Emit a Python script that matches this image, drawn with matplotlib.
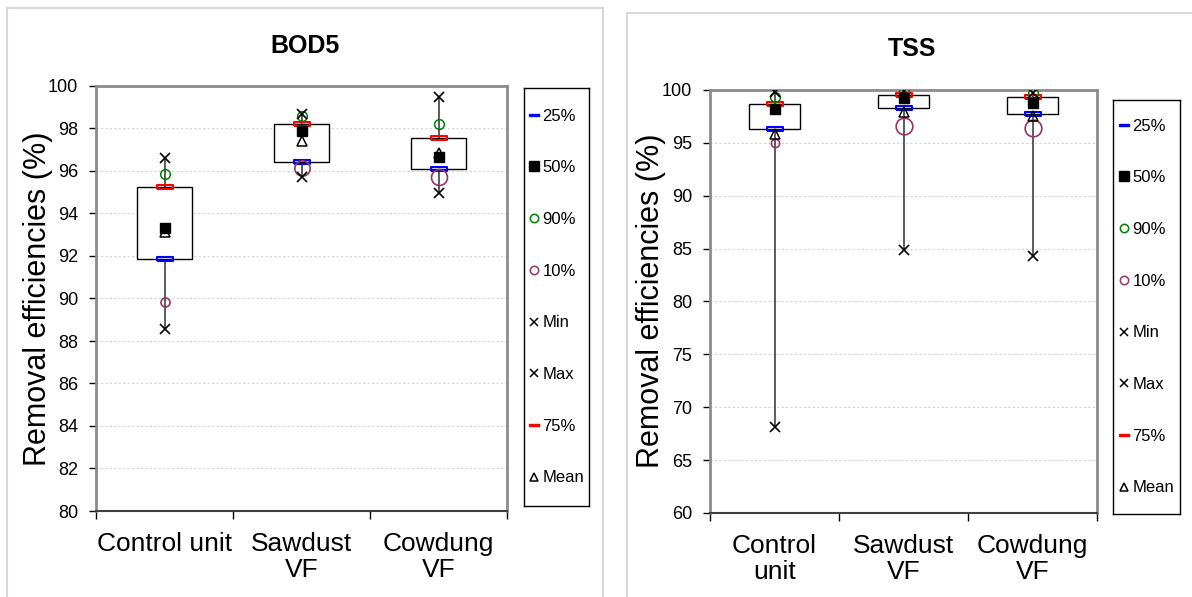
import matplotlib
matplotlib.use("Agg")
from matplotlib import pyplot as plt
from matplotlib.lines import Line2D
from matplotlib.patches import Rectangle

plt.rcParams['font.family'] = ['Liberation Sans', 'DejaVu Sans']

# BOD5 removal efficiencies (%)
bod_labels = ["Control unit", "Sawdust\nVF", "Cowdung\nVF"]
bod_p25 = [91.84, 96.44, 96.08]
bod_p50 = [93.30, 97.88, 96.66]
bod_p75 = [95.26, 98.20, 97.57]
bod_p10 = [89.85, 96.16, 95.73]
bod_p90 = [95.84, 98.60, 98.21]
bod_min = [88.55, 95.70, 94.98]
bod_max = [96.63, 98.66, 99.50]
bod_mean = [93.15, 97.41, 96.86]

# TSS removal efficiencies (%)
tss_labels = ["Control\nunit", "Sawdust\nVF", "Cowdung\nVF"]
tss_p25 = [96.31, 98.33, 97.70]
tss_p50 = [98.17, 99.20, 98.80]
tss_p75 = [98.65, 99.50, 99.31]
tss_p10 = [95.00, 96.60, 96.43]
tss_p90 = [99.37, 99.88, 99.70]
tss_min = [68.15, 84.86, 84.30]
tss_max = [99.84, 99.95, 99.72]
tss_mean = [95.84, 97.90, 97.57]

# the 10% circles are drawn in two sizes in the original
bod_p10_size = [6.5, 11, 11.5]
tss_p10_size = [6, 12, 12]

DASH = [(-1, -0.22), (1, -0.22), (1, 0.22), (-1, 0.22), (-1, -0.22)]
PURPLE = "#993366"
GREEN = "#008000"
FRAME = "#8c8c8c"


def box_panel(ax, labels, p25, p50, p75, p10, p90, vmin, vmax, mean, p10_size):
    x = list(range(1, len(labels) + 1))
    ax.vlines(x, vmin, vmax, color="#303030", lw=1.1, zorder=1)
    ax.bar(x, [b - a for a, b in zip(p25, p75)], bottom=p25, width=0.4,
           color="white", edgecolor="black", lw=1.0, zorder=2)
    ax.plot(x, p25, ls="none", marker=DASH, ms=12, mfc="none", mec="#0000ff", mew=1.5, zorder=4)
    ax.plot(x, p75, ls="none", marker=DASH, ms=12, mfc="none", mec="#ff0000", mew=1.5, zorder=4)
    ax.plot(x, p50, ls="none", marker="s", ms=7.5, color="black", zorder=5)
    ax.plot(x, p90, ls="none", marker="o", ms=7, mfc="none", mec=GREEN, mew=1.1, zorder=4)
    for xi, v, s in zip(x, p10, p10_size):
        ax.plot([xi], [v], ls="none", marker="o", ms=s, mfc="none", mec=PURPLE, mew=1.2, zorder=4)
    ax.plot(x, vmin, ls="none", marker="x", ms=7.5, color="black", mew=1.2, zorder=5)
    ax.plot(x, vmax, ls="none", marker="x", ms=7.5, color="black", mew=1.2, zorder=5)
    ax.plot(x, mean, ls="none", marker="^", ms=7, mfc="none", mec="black", mew=1.1, zorder=5)

    ax.set_xlim(0.5, len(labels) + 0.5)
    ax.set_xticks([i + 0.5 for i in range(len(labels) + 1)])
    ax.set_xticklabels([])
    ax.set_xticks(x, minor=True)
    ax.set_xticklabels(labels, minor=True, fontsize=19, linespacing=1.12)
    ax.tick_params(axis="x", which="major", length=6, width=1, direction="out", color="black")
    ax.tick_params(axis="x", which="minor", length=0, pad=15)
    ax.tick_params(axis="y", length=5, width=1, direction="out", color="black", labelsize=13, pad=8)
    ax.yaxis.grid(True, color="#d4d4d4", ls=(0, (2, 2)), lw=0.8)
    ax.set_axisbelow(True)
    for side in ("left", "top", "right"):
        ax.spines[side].set_color(FRAME)
        ax.spines[side].set_linewidth(2)
    ax.spines["bottom"].set_color("#404040")
    ax.spines["bottom"].set_linewidth(1.5)


def legend_box(fig, rect):
    lax = fig.add_axes(rect)
    lax.set_xticks([])
    lax.set_yticks([])
    for sp in lax.spines.values():
        sp.set_color("black")
        sp.set_linewidth(1.0)
    handles = [
        Line2D([], [], ls="none", marker=DASH, ms=7.5, color="#0000ff"),
        Line2D([], [], ls="none", marker="s", ms=7, color="black"),
        Line2D([], [], ls="none", marker="o", ms=6, mfc="none", mec=GREEN, mew=1.1),
        Line2D([], [], ls="none", marker="o", ms=6, mfc="none", mec=PURPLE, mew=1.1),
        Line2D([], [], ls="none", marker="x", ms=6, color="black", mew=1.1),
        Line2D([], [], ls="none", marker="x", ms=6, color="black", mew=1.1),
        Line2D([], [], ls="none", marker=DASH, ms=7.5, color="#ff0000"),
        Line2D([], [], ls="none", marker="^", ms=6, mfc="none", mec="black", mew=1.1),
    ]
    names = ["25%", "50%", "90%", "10%", "Min", "Max", "75%", "Mean"]
    lax.legend(handles, names, loc="center", frameon=False, fontsize=12,
               labelspacing=2.2, handlelength=0.6, handletextpad=0.2, borderpad=0)


fig = plt.figure(figsize=(11.92, 5.97), dpi=100)

# chart-area borders
fig.patches.append(Rectangle((7 / 1192, -0.1), 596 / 1192, 1.1 - 8 / 597, transform=fig.transFigure,
                             fill=False, ec="#d9d9d9", lw=1.5))
fig.patches.append(Rectangle((627 / 1192, -0.1), 0.6, 1.1 - 13 / 597, transform=fig.transFigure,
                             fill=False, ec="#d9d9d9", lw=1.5))

ax1 = fig.add_axes([96 / 1192, 86 / 597, 411 / 1192, 425 / 597])
box_panel(ax1, bod_labels, bod_p25, bod_p50, bod_p75, bod_p10, bod_p90,
          bod_min, bod_max, bod_mean, bod_p10_size)
ax1.set_ylim(80, 100)
ax1.set_yticks(range(80, 101, 2))

ax2 = fig.add_axes([710 / 1192, 84 / 597, 387 / 1192, 423 / 597])
box_panel(ax2, tss_labels, tss_p25, tss_p50, tss_p75, tss_p10, tss_p90,
          tss_min, tss_max, tss_mean, tss_p10_size)
ax2.set_ylim(60, 100)
ax2.set_yticks(range(60, 101, 5))

legend_box(fig, [524 / 1192, 91 / 597, 65 / 1192, 418 / 597])
legend_box(fig, [1113 / 1192, 83 / 597, 67 / 1192, 414 / 597])

fig.text(305 / 1192, 1 - 46 / 597, "BOD5", ha="center", va="center", fontsize=18, fontweight="bold")
fig.text(912 / 1192, 1 - 49 / 597, "TSS", ha="center", va="center", fontsize=18, fontweight="bold")
fig.text(38 / 1192, 1 - 299 / 597, "Removal efficiencies (%)", rotation=90,
         ha="center", va="center", fontsize=22)
fig.text(651 / 1192, 1 - 301 / 597, "Removal efficiencies (%)", rotation=90,
         ha="center", va="center", fontsize=22)

fig.savefig("out.png", dpi=100)
